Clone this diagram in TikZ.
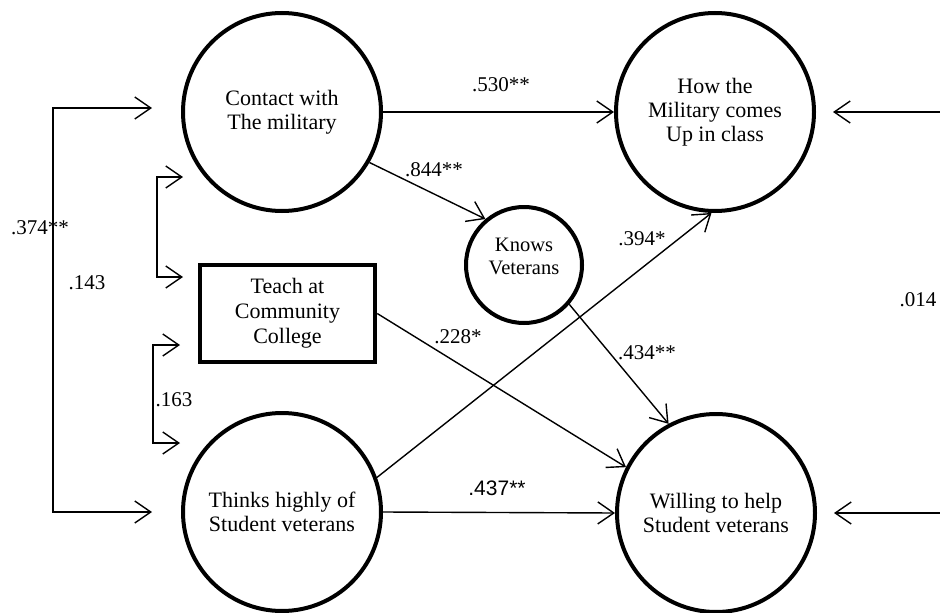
\documentclass[tikz,border=0pt]{standalone}
\usepackage{fontspec}
\setmainfont{Liberation Serif}
\newfontfamily\sansf{Liberation Sans}
\usetikzlibrary{arrows.meta}
\begin{document}
\begin{tikzpicture}[x=1pt,y=-1pt,
  big/.style={circle, draw, line width=4pt, minimum size=198pt, inner sep=0pt, align=center, font=\fontsize{22}{24}\selectfont},
  conn/.style={line width=1.4pt, -{Straight Barb[length=16pt,width=22pt]}},
  dbl/.style={line width=1.4pt, {Straight Barb[length=16pt,width=22pt]}-{Straight Barb[length=16pt,width=22pt]}},
  lbl/.style={font=\fontsize{21}{24}\selectfont, inner sep=0pt}]
\useasboundingbox (0,0) rectangle (940,613);
\fill[white] (0,0) rectangle (940,613);

\node[big] (contact) at (282,112) {Contact with\\The military};
\node[big] (how) at (715,112) {How the\\Military comes\\Up in class};
\node[big, minimum size=116pt,
  label={[font=\fontsize{20.5}{23}\selectfont, align=center, yshift=9pt]center:Knows\\Veterans}] (knows) at (524,265) {};
\node[draw, line width=4.5pt, minimum width=175pt, minimum height=97pt, inner sep=0pt, align=center,
  font=\fontsize{22}{25}\selectfont] (teach) at (287.5,313.5) {Teach at\\Community\\College};
\node[big] (thinks) at (282,512) {Thinks highly of\\Student veterans};
\node[big] (willing) at (716,513) {Willing to help\\Student veterans};

\coordinate (o1) at (152,108);
\coordinate (o2) at (152,512);
\coordinate (a1) at (183,177);
\coordinate (a2) at (183,277);
\coordinate (b1) at (180,345);
\coordinate (b2) at (180,443);
\coordinate (r1) at (940,112);
\coordinate (r2) at (940,513);

\draw[dbl] (o1) -- ++(-99,0) |- (o2);
\draw[dbl] (a1) -- ++(-26,0) |- (a2);
\draw[dbl] (b1) -- ++(-27,0) |- (b2);
\draw[conn] (contact.east) -- (how.west);
\draw[conn] (contact.-30) -- (knows.130);
\draw[conn] (thinks.20) -- (how.-92);
\draw[conn] (teach.east) -- (willing.153);
\draw[conn] (knows.-41) -- (willing.118);
\draw[conn] (thinks.east) -- (willing.west);
\draw[conn] (r1) -- ([xshift=17pt]how.east);
\draw[conn] (r2) -- ([xshift=17pt]willing.east);

\node[lbl] (l530) at (501,85) {.530**};
\node[lbl] (l844) at (434,170) {.844**};
\node[lbl] (l374) at (40,228) {.374**};
\node[lbl] (l143) at (87,283) {.143};
\node[lbl] (l163) at (174,400) {.163};
\node[lbl] (l228) at (458,337) {.228*};
\node[lbl] (l394) at (642,239) {.394*};
\node[lbl] (l434) at (647,353) {.434**};
\node[lbl] (l014) at (918,300) {.014};
\node[lbl, font=\sansf\fontsize{21}{24}\selectfont] (l437) at (497,488) {.437**};
\end{tikzpicture}
\end{document}
